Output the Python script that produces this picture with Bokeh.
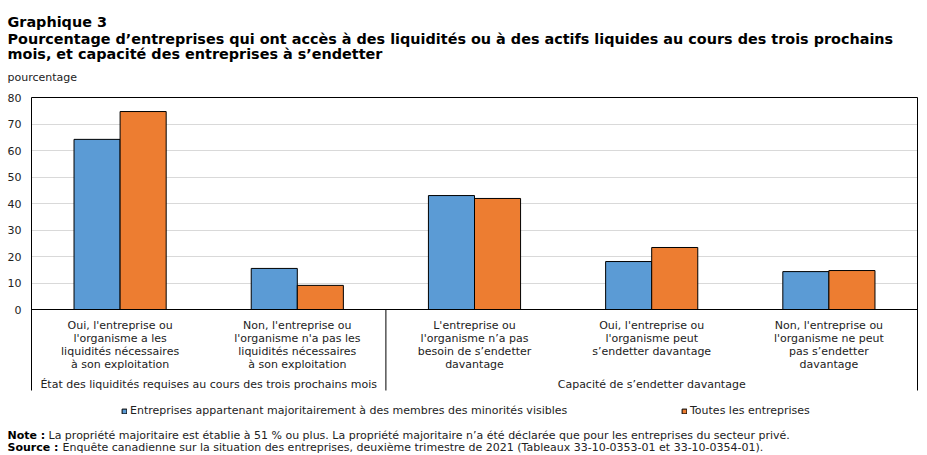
from bokeh.plotting import figure
from bokeh.models import (Range1d, FixedTicker, Label, Legend, LegendItem, ColumnDataSource)
from bokeh.transform import dodge
from bokeh.embed import file_html
from bokeh.resources import INLINE

# ---------------- data ----------------
groups = ["État des liquidités requises au cours des trois prochains mois",
          "Capacité de s’endetter davantage"]
group_sizes = [2, 3]
categories = [
    "Oui, l'entreprise ou\nl'organisme a les\nliquidités nécessaires\nà son exploitation",
    "Non, l'entreprise ou\nl'organisme n'a pas les\nliquidités nécessaires\nà son exploitation",
    "L'entreprise ou\nl'organisme n’a pas\nbesoin de s’endetter\ndavantage",
    "Oui, l'entreprise ou\nl'organisme peut\ns’endetter davantage",
    "Non, l'entreprise ou\nl'organisme ne peut\npas s’endetter\ndavantage",
]
series_names = ["Entreprises appartenant majoritairement à des membres des minorités visibles",
                "Toutes les entreprises"]
minorites = [64.2, 15.5, 43.0, 18.1, 14.3]
toutes = [74.7, 9.1, 41.9, 23.4, 14.7]
y_ticks = [0, 10, 20, 30, 40, 50, 60, 70, 80]

title_lines = ["Graphique 3",
               "Pourcentage d’entreprises qui ont accès à des liquidités ou à des actifs liquides au cours des trois prochains",
               "mois, et capacité des entreprises à s’endetter"]
y_label = "pourcentage"
note_head, note_text = "Note :", "La propriété majoritaire est établie à 51 % ou plus. La propriété majoritaire n’a été déclarée que pour les entreprises du secteur privé."
source_head, source_text = "Source :", "Enquête canadienne sur la situation des entreprises, deuxième trimestre de 2021 (Tableaux 33-10-0353-01 et 33-10-0354-01)."

# ---------------- layout constants (page pixels) ----------------
W, H = 927, 455
FONT = "DejaVu Sans"
TXT = "#222222"
BLUE, ORANGE = "#5B9BD5", "#ED7D31"
PX_L, PX_R = 31, 917        # left / right edge of the category area
PY_TOP, PY_ZERO = 97, 309   # y=80 and y=0
PY_SEP = 390                # bottom of separators
Y_MAX = 80

n_cat = len(categories)
unit = (PX_R - PX_L) / n_cat
ppu = (PY_ZERO - PY_TOP) / Y_MAX


def xd(px):
    return (px - PX_L) / unit


def yd(py):
    return (PY_ZERO - py) / ppu


p = figure(width=W, height=H, x_range=Range1d(xd(0), xd(W)), y_range=Range1d(yd(H), yd(0)),
           output_backend="svg", toolbar_location=None, min_border=0)
p.outline_line_color = None
p.background_fill_color = "white"
p.border_fill_color = "white"

# bars, placed at the category slots of the x scale
xs = [i + 0.5 for i in range(n_cat)]
src = ColumnDataSource(dict(x=xs, a=minorites, b=toutes))
bw = 0.26
rb = p.vbar(x=dodge("x", -bw / 2), top="a", width=bw, source=src,
            fill_color=BLUE, line_color="black", line_width=1)
ro = p.vbar(x=dodge("x", bw / 2), top="b", width=bw, source=src,
            fill_color=ORANGE, line_color="black", line_width=1)

# grid
p.xgrid.grid_line_color = None
p.ygrid.grid_line_color = "#d9d9d9"
p.ygrid.grid_line_width = 1
p.ygrid.cross_bounds = (0, n_cat)

# y axis (inside the frame, at the left edge of the category area)
ya = p.yaxis[0]
ya.fixed_location = 0
ya.ticker = FixedTicker(ticks=y_ticks)
ya.bounds = (0, Y_MAX)
ya.axis_line_color = None
ya.major_tick_line_color = None
ya.minor_tick_line_color = None
ya.major_tick_out = 0
ya.major_tick_in = 0
ya.major_label_standoff = 10
ya.major_label_text_font = FONT
ya.major_label_text_font_size = "11px"
ya.major_label_text_color = TXT

# x axis with category labels
xa = p.xaxis[0]
xa.fixed_location = 0
xa.ticker = FixedTicker(ticks=xs)
xa.major_label_overrides = {x: c for x, c in zip(xs, categories)}
xa.bounds = (0, n_cat)
xa.axis_line_color = None
xa.major_tick_line_color = None
xa.minor_tick_line_color = None
xa.major_tick_out = 0
xa.major_tick_in = 0
xa.major_label_standoff = 9
xa.major_label_text_font = FONT
xa.major_label_text_font_size = "11px"
xa.major_label_text_color = TXT
xa.major_label_text_line_height = 1.0

# frame lines: top, x-axis, left/right edges, group separators
bounds = [0]
for n in group_sizes:
    bounds.append(bounds[-1] + n)
y_sep = yd(PY_SEP)
p.segment(x0=[0, 0], y0=[Y_MAX, 0], x1=[n_cat, n_cat], y1=[Y_MAX, 0],
          line_color="black", line_width=1)
p.segment(x0=bounds, y0=[Y_MAX if b in (0, n_cat) else 0 for b in bounds], x1=bounds,
          y1=[y_sep] * len(bounds), line_color="black", line_width=1)


def text(txt, px, py, size="11px", bold=False, align="left", x_data=None):
    p.add_layout(Label(x=xd(px) if x_data is None else x_data, y=yd(py), text=txt,
                       text_font=FONT, text_font_size=size,
                       text_color="black" if bold else TXT,
                       text_font_style="bold" if bold else "normal",
                       text_baseline="alphabetic", text_align=align))


# group labels centred on their categories
for g, b0, b1 in zip(groups, bounds[:-1], bounds[1:]):
    text(g, 0, 384, align="center", x_data=(b0 + b1) / 2)

# titles and notes
text(title_lines[0], 7, 21, "14.4px", True)
text(title_lines[1], 7, 38, "14.4px", True)
text(title_lines[2], 7, 53, "14.4px", True)
text(y_label, 7, 77, "11px")
text(note_head, 7, 435, "11px", True)
text(note_text, 48, 435, "11px")
text(source_head, 7, 447, "11px", True)
text(source_text, 62, 447, "11px")

# legends (one per series)
for r, name, gx in [(rb, series_names[0], 121), (ro, series_names[1], 681)]:
    lg = Legend(items=[LegendItem(label=name, renderers=[r])],
                location=(gx, H - 417),
                orientation="horizontal", padding=0, margin=0, spacing=0,
                glyph_width=6, glyph_height=6, label_standoff=3, label_height=12, label_width=10,
                label_text_font=FONT, label_text_font_size="11px", label_text_color=TXT,
                border_line_color=None, background_fill_alpha=0)
    p.add_layout(lg)

open("out.html", "w").write(file_html(p, INLINE))
